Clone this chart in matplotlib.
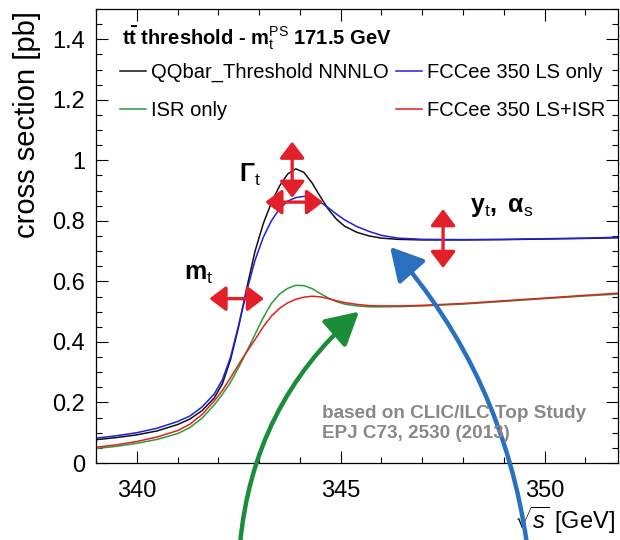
import numpy as np
import matplotlib
matplotlib.use("Agg")
import matplotlib.pyplot as plt
from matplotlib.ticker import MultipleLocator, FuncFormatter

# ---------------- data ----------------
x_bb = [339.0, 339.5, 340.0, 340.5, 341.0, 341.3, 341.6, 341.9, 342.1, 342.3,
        342.5, 342.7, 342.9, 343.1, 343.3, 343.5, 343.7, 343.9, 344.1, 344.3,
        344.5, 344.7, 344.9, 345.1, 345.4, 345.7, 346.0, 346.4, 347.0, 348.0,
        349.0, 350.0, 351.0, 351.8]
y_nnnlo = [0.077, 0.084, 0.093, 0.106, 0.127, 0.145, 0.173, 0.215, 0.262, 0.342,
           0.452, 0.580, 0.700, 0.790, 0.860, 0.915, 0.955, 0.972, 0.960, 0.925,
           0.880, 0.838, 0.805, 0.782, 0.762, 0.750, 0.743, 0.739, 0.737, 0.737,
           0.738, 0.740, 0.742, 0.744]
y_ls = [0.082, 0.090, 0.100, 0.115, 0.137, 0.155, 0.185, 0.228, 0.275, 0.350,
        0.457, 0.570, 0.670, 0.745, 0.800, 0.840, 0.865, 0.877, 0.881, 0.876,
        0.862, 0.843, 0.822, 0.803, 0.781, 0.765, 0.752, 0.743, 0.739, 0.738,
        0.739, 0.741, 0.743, 0.746]

x_isr = [339.0, 339.5, 340.0, 340.5, 341.0, 341.3, 341.6, 341.9, 342.1, 342.3,
         342.5, 342.7, 342.9, 343.1, 343.3, 343.5, 343.7, 343.9, 344.1, 344.3,
         344.5, 344.7, 344.9, 345.1, 345.4, 345.7, 346.0, 346.5, 347.0, 348.0,
         349.0, 350.0, 351.0, 351.8]
y_isr = [0.048, 0.055, 0.065, 0.078, 0.097, 0.117, 0.148, 0.192, 0.227, 0.267,
         0.316, 0.370, 0.425, 0.480, 0.527, 0.558, 0.577, 0.587, 0.586, 0.576,
         0.560, 0.545, 0.533, 0.525, 0.519, 0.516, 0.516, 0.517, 0.519, 0.525,
         0.534, 0.543, 0.552, 0.558]
y_lsisr = [0.052, 0.060, 0.071, 0.086, 0.107, 0.128, 0.160, 0.205, 0.240, 0.282,
           0.326, 0.368, 0.408, 0.450, 0.485, 0.511, 0.529, 0.541, 0.548, 0.551,
           0.549, 0.543, 0.536, 0.530, 0.524, 0.520, 0.519, 0.519, 0.521, 0.527,
           0.536, 0.545, 0.554, 0.561]

# ---------------- style ----------------
plt.rcParams['font.family'] = ['Liberation Sans', 'DejaVu Sans']
plt.rcParams['mathtext.fontset'] = 'custom'
plt.rcParams['mathtext.rm'] = 'Liberation Sans'
plt.rcParams['mathtext.it'] = 'Liberation Sans:italic'
plt.rcParams['mathtext.bf'] = 'Liberation Sans:bold'

RED = '#e3202a'
GREEN_ARROW = '#1a8c3a'
BLUE_ARROW = '#2a70c0'

fig = plt.figure(figsize=(6.2, 5.4), dpi=100)
ax = fig.add_axes([96 / 620, 77 / 540, 522 / 620, 454 / 540])

line_kw = dict(lw=1.1, solid_joinstyle='round')
ax.plot(x_bb, y_nnnlo, color='#111111', label='QQbar_Threshold NNNLO', **line_kw)
ax.plot(x_isr, y_isr, color='#2e9a3a', label='ISR only', **line_kw)
ax.plot(x_bb, y_ls, color='#1f1fe0', label='FCCee 350 LS only', **line_kw)
ax.plot(x_isr, y_lsisr, color='#e02020', label='FCCee 350 LS+ISR', **line_kw)

ax.set_xlim(339.0, 351.8)
ax.set_ylim(0, 1.5)

ax.xaxis.set_major_locator(MultipleLocator(5))
ax.xaxis.set_minor_locator(MultipleLocator(1))
ax.yaxis.set_major_locator(MultipleLocator(0.2))
ax.yaxis.set_minor_locator(MultipleLocator(0.05))
ax.yaxis.set_major_formatter(FuncFormatter(lambda v, p: f'{v:g}'))
ax.tick_params(which='both', direction='in', top=True, right=True, labelsize=17)
ax.tick_params(which='major', length=8.5, width=0.8)
ax.tick_params(which='minor', length=4.5, width=0.8)
ax.tick_params(axis='x', pad=12)
ax.tick_params(axis='y', pad=8)
for s in ax.spines.values():
    s.set_linewidth(0.9)

ax.set_ylabel('cross section [pb]', fontsize=21, loc='top')
ax.yaxis.set_label_coords(-0.105, 0.995)
ax.set_xlabel(r'$\sqrt{s}$ [GeV]', fontsize=17, loc='right')
ax.xaxis.set_label_coords(0.995, -0.092)

# header + legend
ax.text(0.049, 0.937, r'$\mathbf{t\bar{t}}$ threshold - $\mathbf{m}_\mathrm{t}^\mathrm{PS}$ 171.5 GeV',
        transform=ax.transAxes, fontsize=14.5, fontweight='bold', va='center')
ax.legend(ncol=2, frameon=False, fontsize=14.5, loc='upper left',
          bbox_to_anchor=(0.03, 0.899), handlelength=1.3, handletextpad=0.25,
          columnspacing=0.35, labelspacing=0.95, borderaxespad=0)

# parameter labels
ax.text(342.51, 0.929, r'$\mathbf{\Gamma}_\mathrm{t}$', fontsize=18, fontweight='bold')
ax.text(341.16, 0.605, r'$\mathbf{m}_\mathrm{t}$', fontsize=18, fontweight='bold')
ax.text(348.17, 0.83, r'$\mathbf{y}_\mathrm{t}\mathbf{,\ \alpha}_\mathrm{s}$', fontsize=18,
        fontweight='bold')

# red double arrows
dbl = dict(arrowstyle='<|-|>,head_length=0.5,head_width=0.38', lw=2.4, color=RED,
           shrinkA=0, shrinkB=0, mutation_scale=20)
ax.annotate('', xy=(343.12, 0.543), xytext=(341.78, 0.543), arrowprops=dbl)
ax.annotate('', xy=(343.81, 1.062), xytext=(343.81, 0.876), arrowprops=dbl)
ax.annotate('', xy=(344.57, 0.862), xytext=(343.15, 0.862), arrowprops=dbl)
ax.annotate('', xy=(347.51, 0.839), xytext=(347.51, 0.644), arrowprops=dbl)

# big curved arrows
ax.annotate('', xy=(345.45, 0.50), xytext=(342.53, -0.27), annotation_clip=False,
            arrowprops=dict(arrowstyle='-|>,head_length=1.0,head_width=0.55',
                            connectionstyle='arc3,rad=-0.2', lw=3.2,
                            color=GREEN_ARROW, shrinkA=0, shrinkB=0,
                            mutation_scale=20))
ax.annotate('', xy=(346.21, 0.714), xytext=(349.57, -0.27), annotation_clip=False,
            arrowprops=dict(arrowstyle='-|>,head_length=1.0,head_width=0.55',
                            connectionstyle='arc3,rad=0.15', lw=3.2,
                            color=BLUE_ARROW, shrinkA=0, shrinkB=0,
                            mutation_scale=20))

ax.text(344.53, 0.19, 'based on CLIC/ILC Top Study\nEPJ C73, 2530 (2013)',
        fontsize=13.6, fontweight='bold', color='#8a8884', va='top', linespacing=1.2)

fig.savefig('out.png', dpi=100)
